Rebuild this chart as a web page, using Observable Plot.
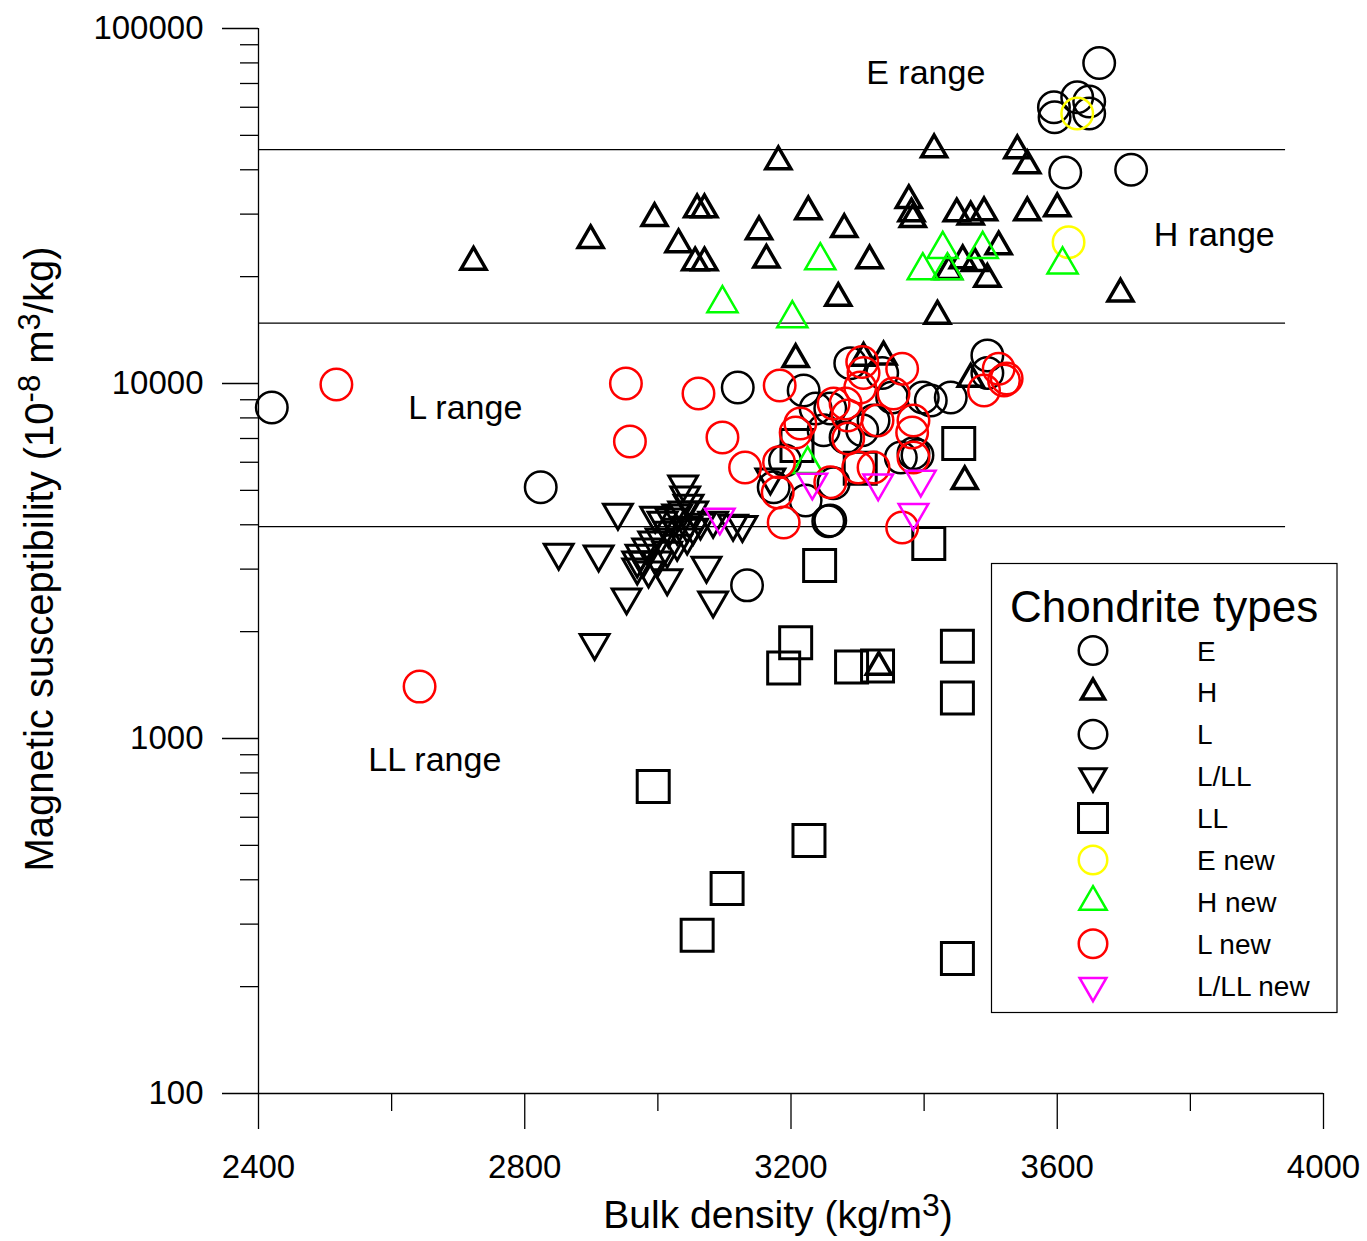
<!DOCTYPE html>
<html><head><meta charset="utf-8">
<script src="https://cdn.jsdelivr.net/npm/d3@7"></script>
<script src="https://cdn.jsdelivr.net/npm/@observablehq/plot@0.6"></script>
<style>html,body{margin:0;padding:0;background:#fff;} svg{display:block}</style>
</head><body><div id="chart"></div>
<script>
// ---- data: [bulk density (kg/m3), magnetic susceptibility (1e-8 m3/kg)] ----
const E = [[3663,80000],[3595,60000],[3596,56200],[3630,64000],[3648,62300],[3648,57600],[3612,39300],[3711,40000]];
const H = [[2723,22000],[2899,25300],[2995,29200],[3031,24650],[3059,30900],[3070,30900],[3056,21900],[3070,21900],
  [3181,42200],[3152,26800],[3163,22300],[3226,30500],[3280,27200],[3271,17400],[3207,11700],[3318,22200],
  [3415,45600],[3540,45300],[3555,41100],[3377,32800],[3381,30100],[3383,29000],[3449,30100],[3470,29500],
  [3490,30300],[3555,30300],[3600,31100],[3512,24300],[3458,22200],[3476,21800],[3437,20700],[3495,19700],
  [3695,17900],[3420,15500],[3309,11800],[3339,11900],[3470,10300],[3461,5300],[3332,1590]];
const L = [[2420,8560],[2824,5100],[3120,9740],[3134,2700],[3256,4090],[3495,12000],[3495,10700],[3440,9130],
  [3410,8960],[3398,9130],[3219,9560],[3289,11400],[3337,10700],[3237,8500],[3259,8500],[3249,7380],[3282,7050],
  [3307,7380],[3324,7870],[3352,9130],[3365,6190],[3384,6360],[3390,6280],[3174,5100],[3222,4680],[3259,4110],
  [3264,5240],[3191,6070]];
const LLL = [[2940,4330],[2851,3340],[2911,3300],[2953,2500],[2905,1860],[3038,5200],[3041,4840],[3014,2830],
  [3073,3070],[3083,2450],[3083,4110],[3113,4030],[3127,4000],[3169,5440],
  [2996,4245],[3007,4110],[3019,4195],[3029,4305],[3038,4390],[3046,4590],[3053,4390],[3029,3930],[3016,3855],
  [3004,3685],[2993,3615],[2984,3455],[2974,3320],[2969,3175],[2978,3175],[2999,3175],[3014,3385],[3029,3540],
  [3044,3685],[3053,3930],[3064,4060],[3044,3980],[2969,3035],[2986,2975]];
const LL = [[3452,6780],[3407,3540],[3243,3070],[3207,1860],[3189,1580],[3291,1590],[3330,1600],[3450,1820],
  [3450,1300],[2993,733],[3227,516],[3104,378],[3059,279],[3450,240],[3209,6690],[3304,5770]];
const Enew = [[3630,57600],[3617,25000]];
const Hnew = [[3097,16800],[3202,15250],[3244,22200],[3428,23900],[3398,20800],[3435,20800],[3488,23900],[3608,21600],[3225,5920]];
const Lnew = [[2517,9940],[2952,10000],[2958,6870],[3061,9370],[3097,7050],[3131,5800],[2642,1400],[3183,9870],
  [3307,11500],[3309,10700],[3367,11000],[3354,9370],[3490,9560],[3512,11000],[3520,10200],[3304,9740],[3282,8780],
  [3264,8780],[3285,8130],[3330,7870],[3384,7870],[3382,7280],[3384,6190],[3286,7000],[3214,7710],[3207,7280],
  [3182,6000],[3180,4930],[3259,5270],[3301,5800],[3324,5800],[3189,4060],[3367,3930],[3524,10330]];
const LLLnew = [[3093,4200],[3232,5270],[3331,5240],[3395,5370],[3384,4330]];

const xMajor = [2400, 2800, 3200, 3600, 4000];
const xMinor = [2600, 3000, 3400, 3800];
const yMajor = [100, 1000, 10000, 100000];
const yMinor = [200,300,400,500,600,700,800,900,2000,3000,4000,5000,6000,7000,8000,9000,
  20000,30000,40000,50000,60000,70000,80000,90000];
const rangeLines = [45600, 14800, 3950];
const rangeLabels = ["E range", "H range", "L range", "LL range"];
const rangeLabelX = [3313, 3745, 2625, 2565];
const rangeLabelY = [75000, 26100, 8510, 867];
const legendNames = ["E", "H", "L", "L/LL", "LL", "E new", "H new", "L new", "L/LL new"];

// ---- styling ----
const FONT = "'Liberation Sans', Arial, Helvetica, sans-serif";
const sqrt3 = Math.sqrt(3);
const triDown = {draw(ctx, size) {
  const y = Math.sqrt(size / (sqrt3 * 3));
  ctx.moveTo(0, 2 * y); ctx.lineTo(sqrt3 * y, -y); ctx.lineTo(-sqrt3 * y, -y); ctx.closePath();
}};
const styles = [
  {data: E,      symbol: d3.symbolCircle,   stroke: "#000000", r: 15.75, sw: 2.5},
  {data: H,      symbol: d3.symbolTriangle, stroke: "#000000", r: 9.3,   sw: 3.5},
  {data: L,      symbol: d3.symbolCircle,   stroke: "#000000", r: 15.75, sw: 2.5},
  {data: LLL,    symbol: triDown,           stroke: "#000000", r: 10.7,  sw: 3},
  {data: LL,     symbol: d3.symbolSquare,   stroke: "#000000", r: 18.05, sw: 3},
  {data: Enew,   symbol: d3.symbolCircle,   stroke: "#ffff00", r: 15.75, sw: 2.5},
  {data: Hnew,   symbol: d3.symbolTriangle, stroke: "#00ff00", r: 11.2,  sw: 2.5},
  {data: Lnew,   symbol: d3.symbolCircle,   stroke: "#ff0000", r: 15.75, sw: 2.5},
  {data: LLLnew, symbol: triDown,           stroke: "#ff00ff", r: 11,    sw: 2.5}
];
const annotations = rangeLabels.map((t, i) => ({t, x: rangeLabelX[i], y: rangeLabelY[i]}));

const axisStyle = {stroke: "black", strokeWidth: 1.3, label: null};
const chart = Plot.plot({
  width: 1367, height: 1241,
  marginLeft: 258, marginRight: 44, marginTop: 28, marginBottom: 148,
  x: {domain: [2400, 4000]},
  y: {type: "log", domain: [100, 100000]},
  style: {fontFamily: FONT, fontSize: "33px", color: "black", background: "white"},
  marks: [
    Plot.ruleY(rangeLines, {x1: 2400, x2: 3943, stroke: "black", strokeWidth: 1.3}),
    Plot.axisX(xMinor, {...axisStyle, tickSize: 18, fill: "none"}),
    Plot.axisX(xMajor, {...axisStyle, tickSize: 36, tickPadding: 25, fontSize: 33, fill: "black", tickFormat: d => String(d)}),
    Plot.axisY(yMinor, {...axisStyle, tickSize: 18, fill: "none"}),
    Plot.axisY(yMajor, {...axisStyle, tickSize: 36, tickPadding: 19, fontSize: 33, fill: "black", tickFormat: d => String(d)}),
    Plot.ruleX([2400], {y1: 100, y2: 100000, stroke: "black", strokeWidth: 1.3}),
    Plot.ruleY([100], {x1: 2400, x2: 4000, stroke: "black", strokeWidth: 1.3}),
    Plot.text(annotations, {x: "x", y: "y", text: "t", textAnchor: "start", fontSize: 34, fill: "black"}),
    ...styles.map(s => Plot.dot(s.data, {x: d => d[0], y: d => d[1], symbol: s.symbol, r: s.r,
      stroke: s.stroke, strokeWidth: s.sw, fill: "none"}))
  ]
});
document.getElementById("chart").appendChild(chart);

const svg = d3.select(chart);
// axis titles
const xt = svg.append("text").attr("x", 778).attr("y", 1228).attr("text-anchor", "middle")
  .attr("font-family", FONT).attr("font-size", 39).attr("fill", "black");
xt.append("tspan").text("Bulk density (kg/m");
xt.append("tspan").attr("font-size", 32).attr("dy", -12).text("3");
xt.append("tspan").attr("dy", 12).text(")");

const yt = svg.append("text").attr("transform", "translate(53,559) rotate(-90)").attr("text-anchor", "middle")
  .attr("font-family", FONT).attr("font-size", 40).attr("fill", "black");
yt.append("tspan").text("Magnetic susceptibility (10");
yt.append("tspan").attr("font-size", 31).attr("dy", -13).text("-8");
yt.append("tspan").attr("dy", 13).text(" m");
yt.append("tspan").attr("font-size", 31).attr("dy", -13).text("3");
yt.append("tspan").attr("dy", 13).text("/kg)");

// legend
const lg = svg.append("g").attr("text-anchor", "start");
lg.append("rect").attr("x", 991.5).attr("y", 563.5).attr("width", 345.5).attr("height", 449)
  .attr("fill", "white").attr("stroke", "black").attr("stroke-width", 1.2);
lg.append("text").attr("x", 1010).attr("y", 622).attr("text-anchor", "start").attr("font-family", FONT).attr("font-size", 44)
  .attr("fill", "black").text("Chondrite types");
styles.forEach((s, i) => {
  const cy = 650.5 + i * 41.9;
  lg.append("path").attr("transform", `translate(1093,${cy})`)
    .attr("d", d3.symbol(s.symbol, Math.PI * s.r * s.r * (i === 1 ? 0.85 : 0.82))())
    .attr("fill", "none").attr("stroke", s.stroke).attr("stroke-width", s.sw);
  lg.append("text").attr("x", 1197).attr("y", cy + 10).attr("text-anchor", "start").attr("font-family", FONT).attr("font-size", 28)
    .attr("fill", "black").text(legendNames[i]);
});
</script>
</body></html>
